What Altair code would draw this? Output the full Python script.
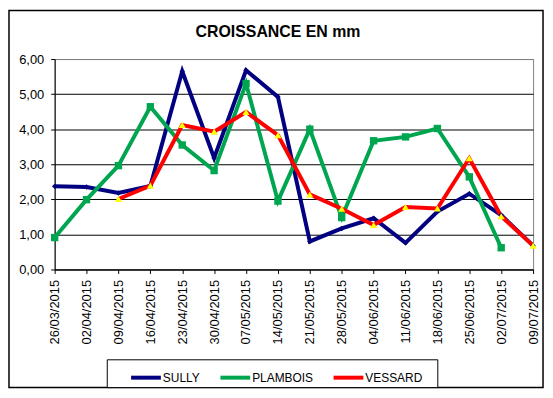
import altair as alt
import pandas as pd

dates = ["26/03/2015", "02/04/2015", "09/04/2015", "16/04/2015", "23/04/2015",
         "30/04/2015", "07/05/2015", "14/05/2015", "21/05/2015", "28/05/2015",
         "04/06/2015", "11/06/2015", "18/06/2015", "25/06/2015", "02/07/2015",
         "09/07/2015"]
sully = [2.37, 2.35, 2.18, 2.38, 5.65, 3.18, 5.68, 4.92, 0.80, 1.17,
         1.46, 0.76, 1.65, 2.16, 1.55, 0.68]
plambois = [0.91, 1.99, 2.96, 4.64, 3.55, 2.82, 5.30, 1.95, 4.00, 1.48,
            3.67, 3.78, 4.02, 2.64, 0.62, None]
vessard = [None, None, 2.01, 2.39, 4.12, 3.93, 4.49, 3.83, 2.14, 1.73,
           1.27, 1.78, 1.74, 3.17, 1.52, 0.68]
series = ["SULLY", "PLAMBOIS", "VESSARD"]
colors = ["#000080", "#00A550", "#FF0000"]
marker_fill = ["#000080", "#00A550", "#FFFF00"]
marker_shape = ["diamond", "square", "triangle-up"]
marker_size = [30, 55, 50]
y_ticks = [0, 1, 2, 3, 4, 5, 6]
title = "CROISSANCE EN mm"

rows = []
for name, vals in zip(series, [sully, plambois, vessard]):
    for d, v in zip(dates, vals):
        if v is not None:
            rows.append({"date": d, "serie": name, "valeur": v})
df = pd.DataFrame(rows)

FONT = "Liberation Sans"

x_enc = alt.X("date:O", sort=dates,
              scale=alt.Scale(type="point", padding=0),
              axis=alt.Axis(title=None, labelAngle=270, labelFontSize=13,
                            labelFont=FONT, labelColor="black",
                            domainColor="black", tickColor="black",
                            tickSize=4, labelPadding=6, grid=False))
y_enc = alt.Y("valeur:Q",
              scale=alt.Scale(domain=[0, 6], nice=False),
              axis=alt.Axis(title=None, values=y_ticks, labelOverlap=False,
                            labelExpr="replace(format(datum.value, '.2f'), '.', ',')",
                            labelFontSize=13, labelFont=FONT, labelColor="black",
                            domainColor="black", tickColor="black", tickSize=4,
                            labelPadding=7,
                            grid=True,
                            gridColor={"condition": {"test": "datum.value == 6", "value": "#808080"},
                                       "value": "black"},
                            gridOpacity=1, gridWidth=1))

color_enc = alt.Color("serie:N", sort=series,
                      scale=alt.Scale(domain=series, range=colors),
                      legend=alt.Legend(title=None, orient="none", direction="horizontal",
                                        legendX=75, legendY=304,
                                        symbolType="stroke", symbolStrokeWidth=4,
                                        symbolSize=900, labelFont=FONT, labelFontSize=12,
                                        labelColor="black", labelOffset=0,
                                        columnPadding=12, padding=0))

legend_box = alt.Chart(pd.DataFrame({"a": [0]})).mark_rect(
    fill="white", stroke="black", strokeWidth=1).encode(
    x=alt.value(53), x2=alt.value(386), y=alt.value(303), y2=alt.value(331))

lines = alt.Chart(df).mark_line(strokeWidth=4).encode(
    x=x_enc, y=y_enc, color=color_enc)

points = []
for name, fc, shp, sz in zip(series, marker_fill, marker_shape, marker_size):
    points.append(
        alt.Chart(df).transform_filter(alt.datum.serie == name)
        .mark_point(filled=True, shape=shp, size=sz, color=fc, opacity=1)
        .encode(x=x_enc, y=y_enc)
    )

frame = alt.Chart(pd.DataFrame({"a": [0]})).mark_rect(
    fill=None, stroke="black", strokeWidth=1.5).encode(
    x=alt.value(-46), x2=alt.value(492), y=alt.value(-49), y2=alt.value(331))

title_mark = alt.Chart(pd.DataFrame({"t": [title]})).mark_text(
    font=FONT, fontSize=16, fontWeight="bold", color="black",
    align="center", baseline="alphabetic").encode(
    text="t:N", x=alt.value(225), y=alt.value(-22))

chart = alt.layer(frame, legend_box, lines, *points, title_mark).properties(
    width=482, height=212,
    padding={"left": 47, "top": 50, "right": 12, "bottom": 120},
    autosize=alt.AutoSizeParams(type="none"),
    background="white",
).configure_view(stroke="#808080", strokeWidth=1)

chart.save("out.html", embed_options={"renderer": "svg", "actions": False})
